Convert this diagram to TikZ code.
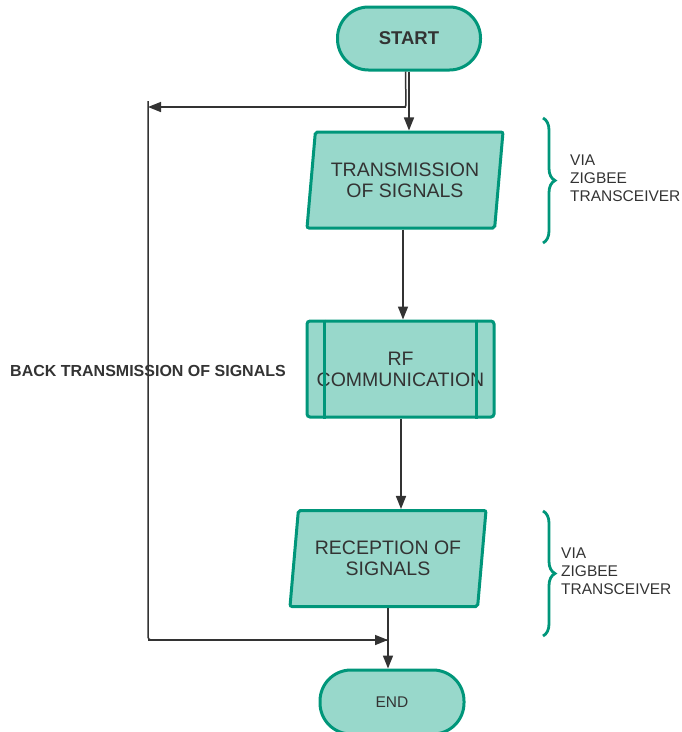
\documentclass[tikz,border=0pt]{standalone}
\usepackage{fontspec}
\setmainfont{Liberation Sans}
\usetikzlibrary{arrows.meta,shapes.geometric,decorations.pathreplacing}
\definecolor{boxfill}{RGB}{152,216,203}
\definecolor{boxline}{RGB}{0,150,122}
\definecolor{ink}{RGB}{51,51,51}
\tikzset{
  term/.style={draw=boxline, fill=boxfill, line width=3pt, rounded corners=31pt, text=ink, inner sep=0pt},
  iobox/.style={draw=boxline, fill=boxfill, line width=3pt, trapezium, trapezium left angle=76.5, trapezium right angle=103.5, trapezium stretches body, minimum width=196pt, minimum height=96pt, text=ink, align=center, font=\fontsize{19.5}{21}\selectfont, inner sep=0pt, rounded corners=2pt},
  procbox/.style={draw=boxline, fill=boxfill, line width=3pt, rounded corners=3pt, minimum width=187pt, minimum height=96pt, text=ink, align=center, font=\fontsize{19.5}{21}\selectfont, inner sep=0pt},
  conn/.style={draw=ink, line width=1.5pt, -{Triangle[length=13pt,width=10pt]}},
  plain/.style={draw=ink, line width=1.5pt},
  bracestyle/.style={draw=boxline, line width=2.8pt, decorate, decoration={brace, amplitude=12pt}},
  note/.style={text=ink, align=left, anchor=west, font=\fontsize{15.5}{18}\selectfont, inner sep=0pt}
}
\begin{document}
\begin{tikzpicture}[x=1pt,y=-1pt]
\useasboundingbox (0,0) rectangle (682,732);
% nodes
\node[term, minimum width=143pt, minimum height=63pt, font=\bfseries\fontsize{18.5}{20}\selectfont] (start) at (409,38.5) {START};
\node[iobox] (tx) at (405,180) {TRANSMISSION\\OF SIGNALS};
\node[procbox] (rf) at (400.5,369) {RF\\COMMUNICATION};
\draw[draw=boxline, line width=3pt] ([xshift=19pt]rf.north west) -- ([xshift=19pt]rf.south west);
\draw[draw=boxline, line width=3pt] ([xshift=-19pt]rf.north east) -- ([xshift=-19pt]rf.south east);
\node[iobox] (rx) at (388,558.5) {RECEPTION OF\\SIGNALS};
\node[term, minimum width=144pt, minimum height=64pt, font=\fontsize{15.5}{18}\selectfont] (end) at (392,702) {END};
% connectors
\draw[conn] (start.south) -- (start.south |- tx.north);
\coordinate (s2) at ([xshift=-3.5pt]start.south);
\coordinate (bend1) at (406,107);
\coordinate (vtop) at (148,101);
\coordinate (vbot) at (148,640);
\coordinate (join) at (388,640);
\draw[plain, rounded corners=2pt] (s2) -- (bend1) -- (150,107);
\draw[conn] (bend1) -- (148,107);
\draw[conn] (tx.south -| 403,0) -- (rf.north -| 403,0);
\draw[conn] (rf.south -| 401,0) -- (rx.north -| 401,0);
\draw[conn] (rx.south -| 388,0) -- (end.north -| 388,0);
\draw[plain, rounded corners=3pt] (vtop) -- (vbot) -- (join);
\draw[conn] (vbot) -- (join);
% label
\node[text=ink, font=\bfseries\fontsize{16}{18}\selectfont, inner sep=0pt] (backlbl) at (148,371) {BACK TRANSMISSION OF SIGNALS};
% braces
\coordinate (b1t) at (543,118);
\coordinate (b1b) at (543,243);
\coordinate (b2t) at (543,511);
\coordinate (b2b) at (543,636);
\draw[bracestyle] (b1t) -- (b1b);
\draw[bracestyle] (b2t) -- (b2b);
\node[note] (via1) at (570,178) {VIA\\ZIGBEE\\TRANSCEIVER};
\node[note] (via2) at (561,571) {VIA\\ZIGBEE\\TRANSCEIVER};
\end{tikzpicture}
\end{document}
